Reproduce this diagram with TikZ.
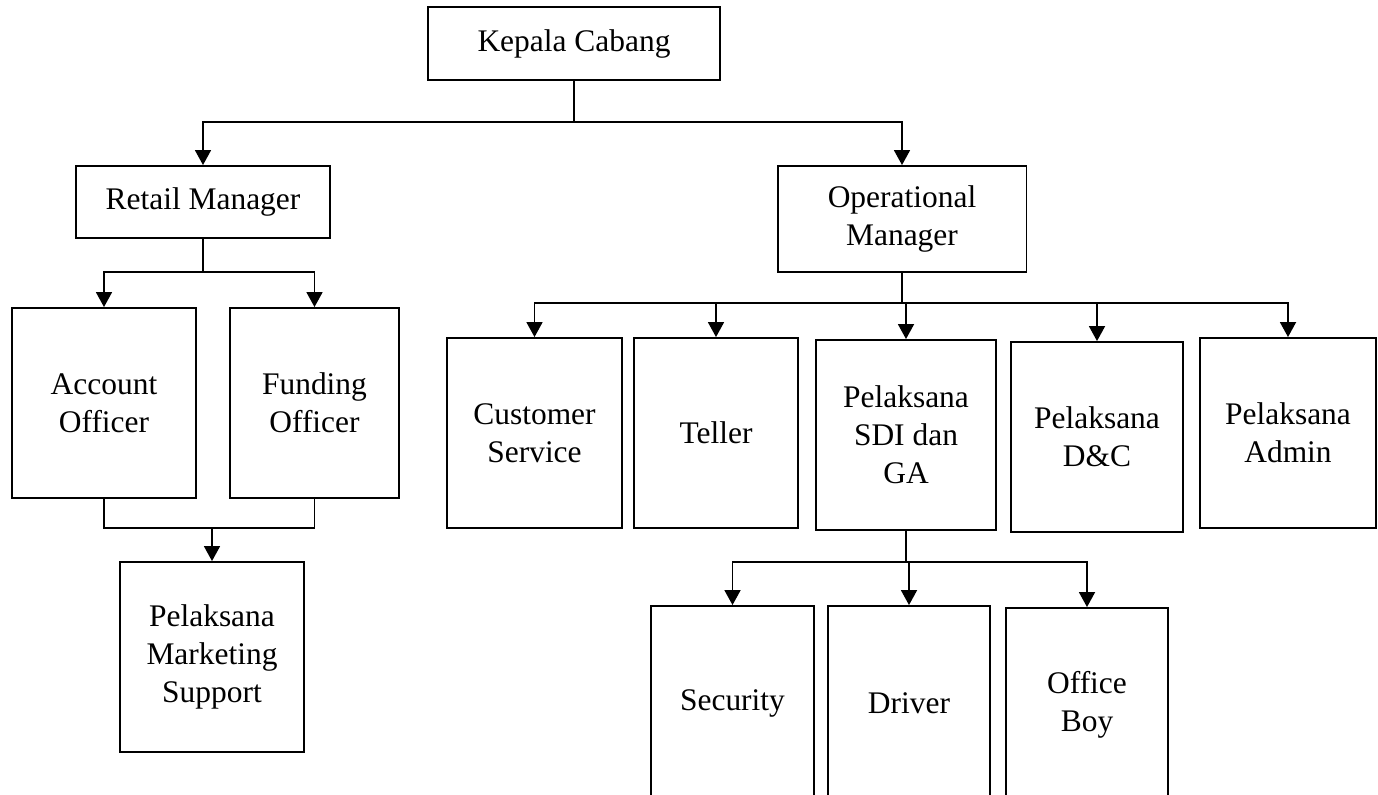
\documentclass[tikz,border=0pt]{standalone}
\usepackage{fontspec}
\setmainfont{Liberation Serif}
\usetikzlibrary{arrows.meta, positioning}

\newcommand{\orgfont}{\fontsize{17.9}{21.5}\selectfont}

\begin{document}
\begin{tikzpicture}[
    x=0.02cm, y=-0.02cm,
    unit/.style={draw, line width=1.1pt, align=center, font=\orgfont, inner sep=0pt},
    arrow/.style={-{Triangle[length=3mm, width=3.2mm]}, line width=1pt},
    link/.style={line width=1pt}
]
    \useasboundingbox (0,0) rectangle (1378,794);
    \clip (0,0) rectangle (1378,794);

    % Head of branch
    \node[unit, minimum width=5.84cm, minimum height=1.46cm] (kepala) at (574,43.5) {Kepala Cabang};

    % Managers
    \node[unit, minimum width=5.08cm, minimum height=1.44cm] (retail) at (203,202) {Retail Manager};
    \node[unit, minimum width=4.98cm, minimum height=2.12cm] (opman) at (902,219) {Operational\\Manager};

    % Retail side
    \node[unit, minimum width=3.68cm, minimum height=3.8cm] (account) at (104,403) {Account\\Officer};
    \node[unit, minimum width=3.38cm, minimum height=3.8cm] (funding) at (314.5,403) {Funding\\Officer};
    \node[unit, minimum width=3.68cm, minimum height=3.8cm] (marketing) at (212,657) {Pelaksana\\Marketing\\Support};

    % Operational side
    \node[unit, minimum width=3.5cm, minimum height=3.8cm] (cs) at (534.5,433) {Customer\\Service};
    \node[unit, minimum width=3.28cm, minimum height=3.8cm] (teller) at (716,433) {Teller};
    \node[unit, minimum width=3.6cm, minimum height=3.8cm] (sdi) at (906,435) {Pelaksana\\SDI dan\\GA};
    \node[unit, minimum width=3.44cm, minimum height=3.8cm] (dc) at (1097,437) {Pelaksana\\D\&C};
    \node[unit, minimum width=3.53cm, minimum height=3.8cm] (admin) at (1288,433) {Pelaksana\\Admin};

    % Under SDI dan GA
    \node[unit, minimum width=3.26cm, minimum height=3.88cm] (security) at (732.5,703) {Security};
    \node[unit, minimum width=3.24cm, minimum height=3.88cm] (driver) at (909,703) {Driver};
    \node[unit, minimum width=3.24cm, minimum height=3.88cm] (boy) at (1087,705) {Office\\Boy};

    % Junctions
    \coordinate (j1) at (574,122);
    \coordinate (j2) at (203,272);
    \coordinate (j3) at (212,528);
    \coordinate (j4) at (902,303);
    \coordinate (j5) at (906,562);

    % Connections
    \draw[link] (kepala) -- (j1);
    \draw[arrow] (j1) -| (retail);
    \draw[arrow] (j1) -| (opman);

    \draw[link] (retail) -- (j2);
    \draw[arrow] (j2) -| (account);
    \draw[arrow] (j2) -| (funding);

    \draw[link] (account) |- (j3) -| (funding);
    \draw[arrow] (j3) -- (marketing);

    \draw[link] (opman) -- (j4);
    \draw[arrow] (j4) -| (cs);
    \draw[arrow] (j4) -| (teller);
    \draw[arrow] (j4) -| (sdi);
    \draw[arrow] (j4) -| (dc);
    \draw[arrow] (j4) -| (admin);

    \draw[link] (sdi) -- (j5);
    \draw[arrow] (j5) -| (security);
    \draw[arrow] (j5) -| (driver);
    \draw[arrow] (j5) -| (boy);
\end{tikzpicture}
\end{document}
